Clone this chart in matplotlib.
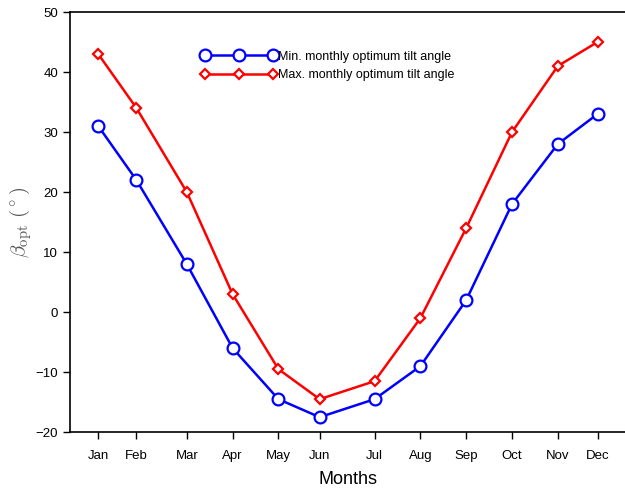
import matplotlib
matplotlib.use("Agg")
import matplotlib.pyplot as plt

# representative day-of-year for each month
days = [17, 42, 75, 105, 135, 162, 198, 228, 258, 288, 318, 344]
months = ["Jan", "Feb", "Mar", "Apr", "May", "Jun",
          "Jul", "Aug", "Sep", "Oct", "Nov", "Dec"]
beta_min = [31, 22, 8, -6, -14.5, -17.5, -14.5, -9, 2, 18, 28, 33]
beta_max = [43, 34, 20, 3, -9.5, -14.5, -11.5, -1, 14, 30, 41, 45]

plt.rcParams["font.family"] = ["Liberation Sans", "DejaVu Sans"]
plt.rcParams["mathtext.fontset"] = "cm"

fig = plt.figure(figsize=(6.25, 4.9), dpi=100)
ax = fig.add_axes([0.112, 0.118, 0.888, 0.8575])

ax.plot(days, beta_min, color="blue", lw=1.8, marker="o", ms=8.5,
        mfc="white", mec="blue", mew=1.6,
        label="Min. monthly optimum tilt angle")
ax.plot(days, beta_max, color="red", lw=1.8, marker="D", ms=5.5,
        mfc="white", mec="red", mew=1.6,
        label="Max. monthly optimum tilt angle")

ax.set_xlim(-1.5, 362)
ax.set_ylim(-20, 50)
ax.set_xticks(days)
ax.set_xticklabels(months)
ax.set_yticks(range(-20, 51, 10))
ax.set_yticklabels([str(v).replace("-", "\u2212") for v in range(-20, 51, 10)])
ax.tick_params(direction="out", length=5, width=1, labelsize=9.5)
ax.tick_params(axis="x", pad=8)
ax.spines["right"].set_visible(False)
for s in ("left", "bottom", "top"):
    ax.spines[s].set_linewidth(1.2)

ax.set_xlabel("Months", fontsize=13, labelpad=6)
ax.set_ylabel(r"$\beta_{\rm opt}\ (^\circ)$", fontsize=15, color="#555555",
              labelpad=1)

ax.legend(loc="upper left", bbox_to_anchor=(0.228, 0.92), frameon=False,
          numpoints=3, handlelength=6.0, handletextpad=0.1,
          fontsize=9, borderaxespad=0, labelspacing=0.55)

fig.savefig("out.png", dpi=100)
